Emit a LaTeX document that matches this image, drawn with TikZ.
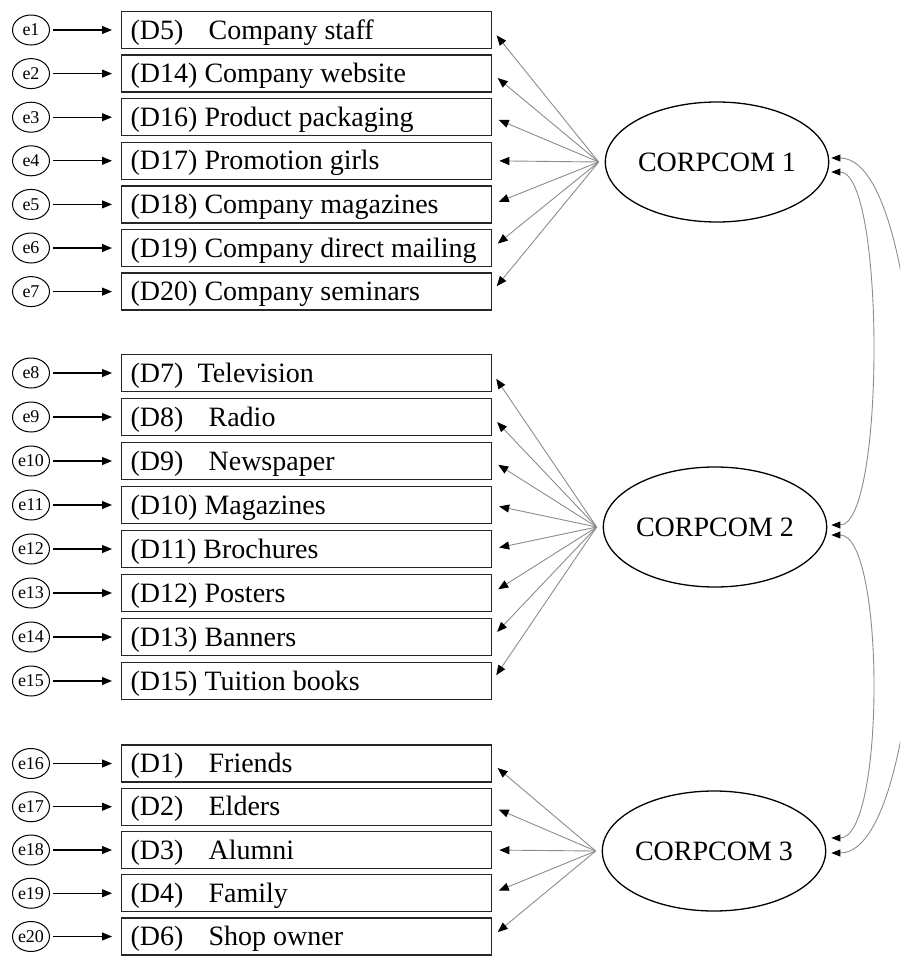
\documentclass[tikz,border=0pt]{standalone}
\usepackage{fontspec}
\setmainfont{Liberation Serif}
\usetikzlibrary{arrows.meta,shapes.geometric,calc}

% label with the item text set at a fixed tab after the code
\newcommand\itemtab[2]{\makebox[78pt][l]{#1}#2}
% one-line item text, left aligned inside its box
\newcommand\itemline[1]{\makebox[352pt][l]{#1}}

\tikzset{
  itembox/.style={draw=black!85, line width=1.3pt, anchor=west,
    minimum width=370pt, inner xsep=9pt, inner ysep=0pt, minimum height=37pt,
    text height=22pt, text depth=4pt, font=\fontsize{28}{30}\selectfont},
  errnode/.style={draw, ellipse, line width=1pt, minimum width=37pt,
    minimum height=30pt, inner sep=0pt, font=\fontsize{18}{18}\selectfont},
  latent/.style={draw, ellipse, line width=1.3pt, minimum width=210pt,
    minimum height=120pt, inner sep=0pt, font=\fontsize{28}{30}\selectfont},
  errarrow/.style={line width=1.1pt, shorten <=3pt, shorten >=9pt,
    -{Triangle[length=10pt,width=8pt]}},
  loading/.style={draw=black!45, line width=0.9pt, shorten >=7pt,
    -{Triangle[length=10pt,width=8pt,color=black]}},
  covar/.style={draw=black!45, line width=0.9pt,
    {Triangle[length=9pt,width=7pt,color=black]}-{Triangle[length=9pt,width=7pt,color=black]}},
}

\begin{document}
\begin{tikzpicture}[x=1pt,y=-1pt]
\useasboundingbox (0,0) rectangle (900,956);
\clip (0,0) rectangle (900,956);

% ---- latent factors
\node[latent] (c1) at (717,162) {CORPCOM 1};
\node[latent] (c2) at (715,527) {CORPCOM 2};
\node[latent] (c3) at (714,851) {CORPCOM 3};

% ---- indicators of CORPCOM 1
\node[itembox] (d5)  at (121,30.0)  {\itemline{\itemtab{(D5)}{Company staff}}};
\node[itembox] (d14) at (121,73.6)  {\itemline{(D14) Company website}};
\node[itembox] (d16) at (121,117.2) {\itemline{(D16) Product packaging}};
\node[itembox] (d17) at (121,160.8) {\itemline{(D17) Promotion girls}};
\node[itembox] (d18) at (121,204.4) {\itemline{(D18) Company magazines}};
\node[itembox] (d19) at (121,248.0) {\itemline{(D19) Company direct mailing}};
\node[itembox] (d20) at (121,291.6) {\itemline{(D20) Company seminars}};

% ---- indicators of CORPCOM 2
\node[itembox] (d7)  at (121,373) {\itemline{\makebox[67pt][l]{(D7)}Television}};
\node[itembox] (d8)  at (121,417) {\itemline{\itemtab{(D8)}{Radio}}};
\node[itembox] (d9)  at (121,461) {\itemline{\itemtab{(D9)}{Newspaper}}};
\node[itembox] (d10) at (121,505) {\itemline{(D10) Magazines}};
\node[itembox] (d11) at (121,549) {\itemline{(D11) Brochures}};
\node[itembox] (d12) at (121,593) {\itemline{(D12) Posters}};
\node[itembox] (d13) at (121,637) {\itemline{(D13) Banners}};
\node[itembox] (d15) at (121,681) {\itemline{(D15) Tuition books}};

% ---- indicators of CORPCOM 3
\node[itembox] (d1) at (121,763.5)  {\itemline{\itemtab{(D1)}{Friends}}};
\node[itembox] (d2) at (121,806.75) {\itemline{\itemtab{(D2)}{Elders}}};
\node[itembox] (d3) at (121,850.0)  {\itemline{\itemtab{(D3)}{Alumni}}};
\node[itembox] (d4) at (121,893.25) {\itemline{\itemtab{(D4)}{Family}}};
\node[itembox] (d6) at (121,936.5)  {\itemline{\itemtab{(D6)}{Shop owner}}};

% ---- error terms and their paths
\foreach \e/\d in {1/d5,2/d14,3/d16,4/d17,5/d18,6/d19,7/d20,
                   8/d7,9/d8,10/d9,11/d10,12/d11,13/d12,14/d13,15/d15,
                   16/d1,17/d2,18/d3,19/d4,20/d6}{
  \path (\d.west) ++(-90,0) node[errnode] (e\e) {e\e};
  \draw[errarrow] (e\e) -- (\d);
}

% ---- factor loadings
\coordinate (f1) at ($(c1.west)+(-6,0)$);
\coordinate (f2) at ($(c2.west)+(-6,0)$);
\coordinate (f3) at ($(c3.west)+(-6,0)$);
\foreach \d in {d5,d14,d16,d17,d18,d19,d20}{\draw[loading] (f1) -- (\d.east);}
\foreach \d in {d7,d8,d9,d10,d11,d12,d13,d15}{\draw[loading] (f2) -- (\d.east);}
\foreach \d in {d1,d2,d3,d4,d6}{\draw[loading] (f3) -- (\d.east);}

% ---- covariances between factors
\coordinate (c1a) at ($(c1.east)+(2,-4)$);
\coordinate (c1b) at ($(c1.east)+(2,10)$);
\coordinate (c2a) at ($(c2.east)+(4,-2)$);
\coordinate (c2b) at ($(c2.east)+(4,8)$);
\coordinate (c3a) at ($(c3.east)+(5,-13)$);
\coordinate (c3b) at ($(c3.east)+(5,2)$);
\draw[covar] (c1a) .. controls +(115,0) and +(115,0) .. (c3b);
\draw[covar] (c1b) .. controls +(54,0) and +(54,0) .. (c2a);
\draw[covar] (c2b) .. controls +(54,0) and +(54,0) .. (c3a);
\end{tikzpicture}
\end{document}
